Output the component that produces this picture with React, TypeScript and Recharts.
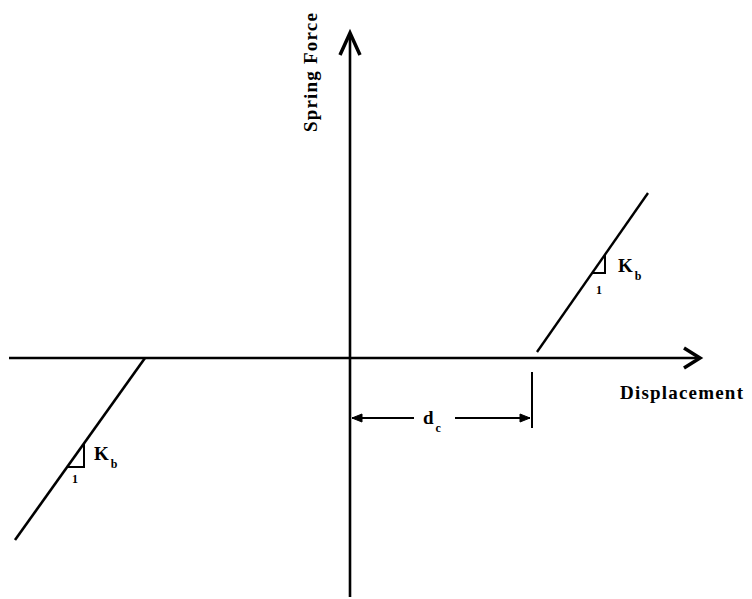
import React from "react";
import { ComposedChart, Line, Scatter, XAxis, YAxis } from "recharts";

type P = { x: number; y: number };

// 1 unit = 100 px on both axes, origin where the two axes cross
const xAxisLine: P[] = [
  { x: -3.41, y: 0 },
  { x: 3.48, y: 0 },
];
const yAxisLine: P[] = [
  { x: 0, y: -2.39 },
  { x: 0, y: 3.23 },
];
const rightBranch: P[] = [
  { x: 1.87, y: 0.06 },
  { x: 2.98, y: 1.65 },
];
const leftBranch: P[] = [
  { x: -2.05, y: 0 },
  { x: -3.35, y: -1.82 },
];
const rightSlope: P[] = [
  { x: 2.42, y: 0.85 },
  { x: 2.55, y: 0.85 },
  { x: 2.55, y: 1.04 },
];
const leftSlope: P[] = [
  { x: -2.83, y: -1.09 },
  { x: -2.66, y: -1.09 },
  { x: -2.66, y: -0.85 },
];
const dcTick: P[] = [
  { x: 1.82, y: -0.14 },
  { x: 1.82, y: -0.7 },
];
const dcLeft: P[] = [
  { x: 0.02, y: -0.6 },
  { x: 0.64, y: -0.6 },
];
const dcRight: P[] = [
  { x: 1.05, y: -0.6 },
  { x: 1.8, y: -0.6 },
];

const arrowHeads = [
  { x: 3.5, y: 0, dir: "right", kind: "axis" },
  { x: 0, y: 3.25, dir: "up", kind: "axis" },
  { x: 0.02, y: -0.6, dir: "left", kind: "dim" },
  { x: 1.8, y: -0.6, dir: "right", kind: "dim" },
];

const labels = [
  { x: 2.68, y: 0.86, text: "K", sub: "b", kind: "big", anchor: "start", rotate: false },
  { x: 2.49, y: 0.64, text: "1", sub: "", kind: "small", anchor: "middle", rotate: false },
  { x: -2.56, y: -1.02, text: "K", sub: "b", kind: "big", anchor: "start", rotate: false },
  { x: -2.75, y: -1.25, text: "1", sub: "", kind: "small", anchor: "middle", rotate: false },
  { x: 0.73, y: -0.66, text: "d", sub: "c", kind: "big", anchor: "start", rotate: false },
  { x: 2.7, y: -0.41, text: "Displacement", sub: "", kind: "title", anchor: "start", rotate: false },
  { x: -0.33, y: 2.86, text: "Spring Force", sub: "", kind: "title", anchor: "middle", rotate: true },
];

const FONT = "'Liberation Serif', 'DejaVu Serif', serif";
const INK = "#000";

function ArrowHead(props: any) {
  const { cx, cy, payload } = props;
  if (cx == null || cy == null) return null;
  if (payload.kind === "axis") {
    const d =
      payload.dir === "up"
        ? `M${cx - 10},${cy + 22} L${cx},${cy} L${cx + 10},${cy + 22}`
        : `M${cx - 16},${cy - 10} L${cx},${cy} L${cx - 16},${cy + 10}`;
    return <path d={d} fill="none" stroke={INK} strokeWidth={3.5} strokeLinejoin="miter" />;
  }
  const s = payload.dir === "left" ? 1 : -1;
  const d = `M${cx},${cy} L${cx + s * 10},${cy - 4} L${cx + s * 10},${cy + 4} Z`;
  return <path d={d} fill={INK} stroke={INK} strokeWidth={1} />;
}

function TextMark(props: any) {
  const { cx, cy, payload } = props;
  if (cx == null || cy == null) return null;
  const size = payload.kind === "big" ? 19 : payload.kind === "small" ? 12 : 19;
  return (
    <text
      x={cx}
      y={cy}
      textAnchor={payload.anchor}
      fontFamily={FONT}
      fontWeight="bold"
      fontSize={size}
      letterSpacing={payload.kind === "title" ? 1.2 : 0}
      fill={INK}
      transform={payload.rotate ? `rotate(-90 ${cx} ${cy})` : undefined}
    >
      {payload.text}
      {payload.sub ? (
        <tspan fontSize={12} dx={2} dy={8}>
          {payload.sub}
        </tspan>
      ) : null}
    </text>
  );
}

const seg = (data: P[], w: number, key: string) => (
  <Line
    key={key}
    data={data}
    dataKey="y"
    type="linear"
    stroke={INK}
    strokeWidth={w}
    dot={false}
    activeDot={false}
    isAnimationActive={false}
  />
);

export default function App() {
  return (
    <div
      style={{
        position: "absolute",
        left: 0,
        top: 0,
        width: 752,
        height: 599,
        background: "#fff",
      }}
    >
      <ComposedChart width={752} height={599} margin={{ top: 0, right: 0, bottom: 0, left: 0 }}>
        <XAxis type="number" dataKey="x" domain={[-3.5, 4.02]} hide allowDataOverflow />
        <YAxis type="number" dataKey="y" domain={[-2.41, 3.58]} hide allowDataOverflow />
        {seg(xAxisLine, 2.6, "xa")}
        {seg(yAxisLine, 2.6, "ya")}
        {seg(rightBranch, 2.4, "rb")}
        {seg(leftBranch, 2.6, "lb")}
        {seg(rightSlope, 2, "rs")}
        {seg(leftSlope, 2, "ls")}
        {seg(dcTick, 2, "dt")}
        {seg(dcLeft, 2, "dl")}
        {seg(dcRight, 2, "dr")}
        <Scatter data={arrowHeads} dataKey="y" shape={ArrowHead} isAnimationActive={false} />
        <Scatter data={labels} dataKey="y" shape={TextMark} isAnimationActive={false} />
      </ComposedChart>
    </div>
  );
}
